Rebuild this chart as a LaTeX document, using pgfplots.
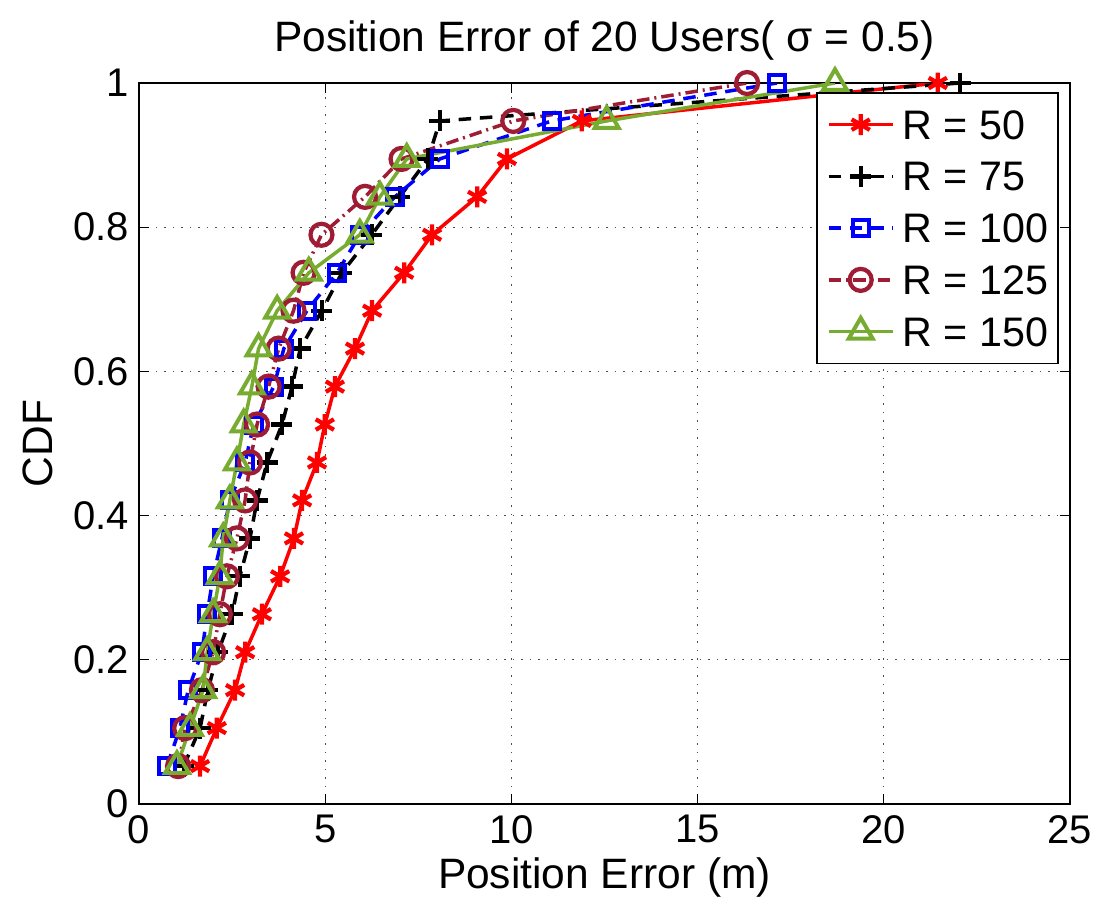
\documentclass[border=0pt]{standalone}
\usepackage{fontspec}
\setmainfont{Liberation Sans}
\usepackage{pgfplots}
\usepackage{pgfplotstable}
\pgfplotsset{compat=1.18}

\definecolor{c50}{RGB}{255,0,0}
\definecolor{c100}{RGB}{0,0,255}
\definecolor{c125}{RGB}{158,28,52}
\definecolor{c150}{RGB}{119,172,48}

% CDF level (k/19) and position error of each radius
\pgfplotstableread{
cdf     r50    r75    r100   r125   r150
0.0526  1.64   1.20   0.75   1.05   1.02
0.1053  2.09   1.64   1.10   1.24   1.37
0.1579  2.58   1.85   1.32   1.69   1.72
0.2105  2.85   2.12   1.69   1.99   1.83
0.2632  3.30   2.50   1.83   2.17   1.99
0.3158  3.79   2.71   1.99   2.36   2.17
0.3684  4.16   2.98   2.23   2.63   2.26
0.4211  4.38   3.17   2.44   2.85   2.44
0.4737  4.78   3.44   2.85   2.98   2.63
0.5263  4.99   3.84   3.08   3.17   2.81
0.5789  5.26   4.11   3.62   3.48   3.03
0.6316  5.80   4.33   3.89   3.75   3.21
0.6842  6.26   4.91   4.51   4.15   3.71
0.7368  7.12   5.45   5.32   4.42   4.56
0.7895  7.87   6.25   5.93   4.90   5.93
0.8421  9.08   7.00   6.87   6.07   6.47
0.8947  9.88   7.76   8.08   7.05   7.19
0.9474  11.89  8.08   11.08  10.05  12.56
1.0000  21.45  22.05  17.13  16.33  18.69
}\cdfdata

\begin{document}
\begin{tikzpicture}
\path[use as bounding box] (-55.6pt,-38.4pt) rectangle (384pt,321.6pt);
\begin{axis}[
  scale only axis,
  width=372.4pt, height=288.4pt,
  at={(0pt,0pt)}, anchor=south west,
  xmin=0, xmax=25, ymin=0, ymax=1,
  xtick={0,5,...,25},
  ytick={0,0.2,0.4,0.6,0.8,1},
  yticklabels={0,0.2,0.4,0.6,0.8,1},
  xticklabels={0,5,10,15,20,25},
  tick align=inside,
  major tick length=4pt,
  tick style={black, line width=0.5pt},
  axis line style={black, line width=0.6pt},
  grid=major,
  major grid style={black!70, line width=0.5pt, dash pattern=on 0.6pt off 2.8pt},
  ticklabel style={font=\fontsize{16}{19}\selectfont},
  /pgf/number format/assume math mode=true,
  xticklabel style={yshift=-1pt},
  yticklabel style={xshift=-0.5pt},
  title={Position Error of 20 Users( σ = 0.5)},
  title style={at={(0.5,1)}, anchor=base, yshift=6.5pt, inner sep=0pt,
    font=\fontsize{17}{20}\selectfont},
  xlabel={Position Error (m)},
  xlabel style={at={(0.5,0)}, anchor=base, yshift=-33.6pt, inner sep=0pt,
    font=\fontsize{17}{20}\selectfont},
  ylabel={CDF},
  ylabel style={at={(axis description cs:-0.109,0.5)}, anchor=center, inner sep=0pt,
    font=\fontsize{17}{20}\selectfont},
  legend image code/.code={%
    \draw[mark repeat=2,mark phase=2,#1] plot coordinates {(0pt,0pt) (12.8pt,0pt) (25.6pt,0pt)};},
  legend style={
    at={(0.988,0.9875)}, anchor=north east,
    draw=black, line width=0.6pt, fill=white,
    inner xsep=4pt, inner ysep=7pt,
    row sep=9.2pt, column sep=3.2pt,
    font=\fontsize{16.5}{19}\selectfont,
    nodes={inner sep=0pt, text height=11.5pt, text depth=0pt},
  },
  legend cell align=left,
]
\addplot[c50, line width=1.4pt, mark=asterisk, mark size=4.2pt, mark options={solid, line width=1.7pt}]
  table[x=r50, y=cdf] {\cdfdata};
\addlegendentry{R = 50}
\addplot[black, line width=1.4pt, dash pattern=on 5pt off 3.5pt, mark=+, mark size=4.2pt, mark options={solid, line width=1.7pt}]
  table[x=r75, y=cdf] {\cdfdata};
\addlegendentry{R = 75}
\addplot[c100, line width=1.4pt, dash pattern=on 5pt off 3.5pt, mark=square, mark size=3.2pt, mark options={solid, line width=1.6pt}]
  table[x=r100, y=cdf] {\cdfdata};
\addlegendentry{R = 100}
\addplot[c125, line width=1.4pt, dash pattern=on 5pt off 2pt on 0.8pt off 2pt, mark=o, mark size=4.4pt, mark options={solid, line width=1.7pt}]
  table[x=r125, y=cdf] {\cdfdata};
\addlegendentry{R = 125}
\addplot[c150, line width=1.4pt, mark=triangle, mark size=5.5pt, mark options={solid, line width=1.6pt}]
  table[x=r150, y=cdf] {\cdfdata};
\addlegendentry{R = 150}
\end{axis}
\end{tikzpicture}
\end{document}
